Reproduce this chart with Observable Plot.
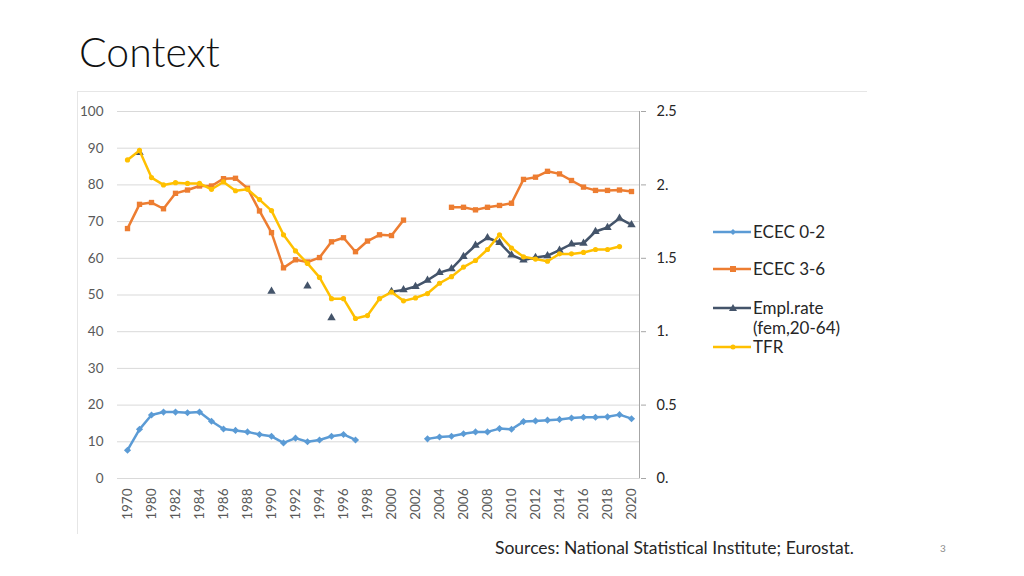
<!DOCTYPE html>
<html>
<head>
<meta charset="utf-8">
<script src="https://cdn.jsdelivr.net/npm/d3@7"></script>
<script src="https://cdn.jsdelivr.net/npm/@observablehq/plot@0.6"></script>
<style>
  html, body { margin:0; padding:0; background:#fff; }
  body { width:1024px; height:576px; position:relative; overflow:hidden; font-family:"Lato","Noto Sans",sans-serif; }
  #title { position:absolute; left:79px; top:27px; font-size:41px; color:#111; font-family:"Lato",sans-serif; font-weight:300; }
  #frame { position:absolute; left:77px; top:91px; width:789px; height:442px; border-top:1px solid #e6e6e6; border-left:1px solid #e6e6e6; }
  #chart { position:absolute; left:0; top:0; }
  #legend { position:absolute; left:712px; top:222px; font-size:17px; color:#262626; font-family:"Lato",sans-serif; }
  .row { position:absolute; left:0; white-space:nowrap; line-height:20px; }
  .row svg { position:absolute; left:0; top:0; }
  .row span { position:absolute; left:41px; top:0; }
  #source { position:absolute; left:495px; top:537px; font-size:17.5px; color:#262626; font-family:"Lato",sans-serif; }
  #page { position:absolute; left:940px; top:542px; font-size:10px; color:#8c8c8c; }
</style>
</head>
<body>
<div id="title">Context</div>
<div id="frame"></div>
<div id="chart"></div>
<div id="legend"></div>
<div id="source">Sources: National Statistical Institute; Eurostat.</div>
<div id="page">3</div>
<script>
const years = ["1970","1975","1980","1981","1982","1983","1984","1985","1986","1987","1988","1989","1990","1991","1992","1993","1994","1995","1996","1997","1998","1999","2000","2001","2002","2003","2004","2005","2006","2007","2008","2009","2010","2011","2012","2013","2014","2015","2016","2017","2018","2019","2020"];
const xTickLabels = ["1970","1980","1982","1984","1986","1988","1990","1992","1994","1996","1998","2000","2002","2004","2006","2008","2010","2012","2014","2016","2018","2020"];
const leftTicks = [0,10,20,30,40,50,60,70,80,90,100];
const rightTicks = [0, 0.5, 1, 1.5, 2, 2.5];
const rightTickLabels = ["0.","0.5","1.","1.5","2.","2.5"];
const seriesNames = ["ECEC 0-2","ECEC 3-6","Empl.rate\n(fem,20-64)","TFR"];
const seriesColors = ["#5B9BD5","#ED7D31","#44546A","#FFC000"];

const ecec02 = [7.7,13.4,17.3,18.1,18.1,17.9,18.1,15.6,13.5,13.1,12.7,12.0,11.5,9.7,11.0,10.0,10.5,11.5,12.0,10.5,null,null,null,null,null,10.8,11.3,11.5,12.2,12.7,12.7,13.6,13.4,15.5,15.7,15.9,16.1,16.5,16.7,16.7,16.8,17.4,16.3];
const ecec36 = [68.1,74.7,75.2,73.5,77.7,78.6,79.7,79.7,81.7,81.8,79.1,72.9,67.0,57.4,59.6,59.0,60.2,64.5,65.6,61.8,64.7,66.4,66.2,70.4,null,null,null,73.9,73.9,73.2,73.9,74.4,75.0,81.5,82.1,83.7,83.0,81.2,79.4,78.5,78.5,78.6,78.2];
const empl = [null,88.8,null,null,null,null,null,null,null,null,null,null,51.0,null,null,52.4,null,43.8,null,null,null,null,50.9,51.4,52.3,54.0,56.1,57.1,60.5,63.5,65.6,64.3,60.9,59.5,60.2,60.7,62.2,63.9,64.1,67.3,68.4,70.9,69.1];
const tfr = [2.17,2.235,2.05,2.0,2.015,2.01,2.01,1.97,2.02,1.96,1.97,1.90,1.825,1.66,1.55,1.465,1.37,1.225,1.225,1.09,1.11,1.225,1.27,1.21,1.23,1.26,1.33,1.375,1.44,1.485,1.56,1.66,1.57,1.51,1.495,1.48,1.53,1.53,1.54,1.56,1.56,1.58,null];

const tfrScale = 40; // right axis 2.5 maps to left axis 100

const rows = years.map((year, i) => ({
  year,
  ecec02: ecec02[i],
  ecec36: ecec36[i],
  empl: empl[i],
  tfr: tfr[i] == null ? null : tfr[i] * tfrScale
}));

function seriesMarks(key, color, symbol, r) {
  const defined = rows.filter(d => d[key] != null);
  return [
    Plot.line(rows, {x: "year", y: key, stroke: color, strokeWidth: 2.5, curve: "linear"}),
    Plot.dot(defined, {x: "year", y: key, fill: color, stroke: "none", symbol, r})
  ];
}

const chart = Plot.plot({
  width: 1024,
  height: 540,
  marginLeft: 117,
  marginRight: 384,
  marginTop: 111,
  marginBottom: 62,
  style: {fontFamily: "Lato, 'Noto Sans', sans-serif", background: "transparent"},
  x: {type: "point", domain: years, padding: 0.5, axis: null},
  y: {domain: [0, 100], axis: null},
  marks: [
    Plot.gridY(leftTicks, {stroke: "#d9d9d9", strokeOpacity: 1, strokeWidth: 1}),
    Plot.axisY(leftTicks, {anchor: "left", tickSize: 0, tickPadding: 14, fontSize: 13.5, fill: "#595959", label: null}),
    Plot.axisY(rightTicks.map(v => v * tfrScale), {anchor: "right", tickSize: 5, tickPadding: 11, fontSize: 14.5, fill: "#262626", stroke: "#a6a6a6", label: null,
      tickFormat: (d) => rightTickLabels[rightTicks.indexOf(d / tfrScale)]}),
    Plot.ruleX([years[years.length - 1]], {dx: 8, y1: 0, y2: 100, stroke: "#a6a6a6"}),
    Plot.axisX(xTickLabels, {anchor: "bottom", tickSize: 0, tickPadding: 10, tickRotate: -90, fontSize: 13.5, fill: "#595959", label: null}),
    ...seriesMarks("ecec02", seriesColors[0], "diamond2", 3.2),
    ...seriesMarks("ecec36", seriesColors[1], "square2", 3.4),
    ...seriesMarks("empl", seriesColors[2], "triangle2", 4),
    ...seriesMarks("tfr", seriesColors[3], "circle", 2.6)
  ]
});
document.getElementById("chart").appendChild(chart);

// legend
const legendSymbols = ["diamond", "square", "triangle", "circle"];
const legendTops = [0, 37, 76, 115];
const legend = document.getElementById("legend");
seriesNames.forEach((name, i) => {
  const row = document.createElement("div");
  row.className = "row";
  row.style.top = legendTops[i] + "px";
  const c = seriesColors[i];
  let marker = "";
  if (legendSymbols[i] === "diamond") marker = `<path d="M21,7 L24,10 L21,13 L18,10Z" fill="${c}"/>`;
  if (legendSymbols[i] === "square") marker = `<rect x="18" y="7" width="6" height="6" fill="${c}"/>`;
  if (legendSymbols[i] === "triangle") marker = `<path d="M21,6 L25,13 L17,13Z" fill="${c}"/>`;
  if (legendSymbols[i] === "circle") marker = `<circle cx="21" cy="10" r="2.5" fill="${c}"/>`;
  row.innerHTML = `<svg width="40" height="20"><line x1="1" x2="39" y1="10" y2="10" stroke="${c}" stroke-width="2.5"/>${marker}</svg><span>${name.replace("\n", "<br>")}</span>`;
  legend.appendChild(row);
});
</script>
</body>
</html>
